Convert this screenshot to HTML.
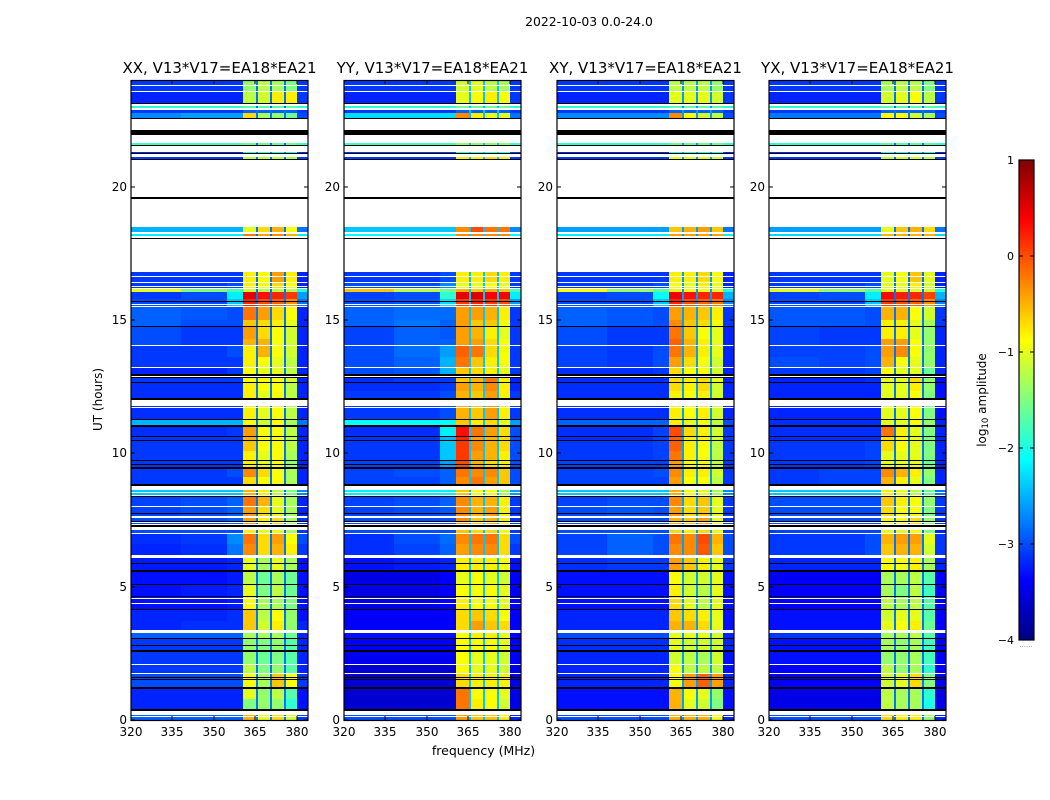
<!DOCTYPE html>
<html lang="en">
<head>
<meta charset="utf-8">
<title>2022-10-03 spectrogram</title>
<style>
html,body{margin:0;padding:0;background:#fff;}
svg{display:block;font-family:"DejaVu Sans","Liberation Sans",sans-serif;fill:#000;}
</style>
</head>
<body>
<svg id="figure" xmlns="http://www.w3.org/2000/svg" width="1050" height="800" viewBox="0 0 1050 800">
<text x="589" y="26" font-size="12.4" text-anchor="middle">2022-10-03 0.0-24.0</text>
<text x="483.5" y="755" font-size="12.5" text-anchor="middle">frequency (MHz)</text>
<text x="0" y="0" font-size="12" text-anchor="middle" transform="translate(102,399.5) rotate(-90)">UT (hours)</text>
<text x="0" y="0" font-size="12" text-anchor="middle" transform="translate(986,400) rotate(-90)">log<tspan font-size="8.5" dy="2">10</tspan><tspan dy="-2"> amplitude</tspan></text>
</svg>
<script>
// UT edges of each time band (hours), top of plot to bottom
const utEdges = [24,23.6,23.11,22.94,22.77,22.52,21.57,21.25,19,18.3,17,16.42,16.16,16.06,15.8,15.47,15,14.75,14.3,14.02,13.6,13.22,12.82,12.64,12.35,11.29,11.03,10.63,10.49,10.1,9.73,9.42,9.1,8.62,8.38,8,7.66,7.25,6.97,6.6,6.12,5.6,5.08,4.63,4.14,3.7,3.32,3.05,2.6,2.08,1.74,1.2,0.8,0.36,0];
// Frequency edges (MHz) of: low1, low2, low3, strip1, strip2, strip3, strip4, high
const freqEdges = [320,338,354.6,360.6,365.9,370.6,375.7,380,384];
const slitBands = [[365.3,365.9],[370.1,370.6],[375.2,375.7]];
const slitLevels = [-2.8,-2.4,-2.6,-2.8];
const panelTitles = ["XX, V13*V17=EA18*EA21","YY, V13*V17=EA18*EA21","XY, V13*V17=EA18*EA21","YX, V13*V17=EA18*EA21"];
const freqTicks = [320,335,350,365,380];
const utTicks = [0,5,10,15,20];
const colorbarTicks = [1,0,-1,-2,-3,-4];
const colorbarLabels = ["1","0","\u22121","\u22122","\u22123","\u22124"];
// Flagged time ranges [start, end] in UT hours
const whiteFlags = [[23.81,23.77],[23.6,23.56],[23.11,23.03],[22.94,22.87],[22.52,22.12],[21.95,21.63],[21.57,21.55],[21.52,21.31],[21.22,21.1],[21,19.62],[19.55,18.49],[18.31,18.21],[18.15,18.08],[18.05,16.81],[16.65,16.6],[16.42,16.37],[16.28,16.22],[16.2,16.16],[15.6,15.56],[15.52,15.47],[14.05,14.01],[13.24,13.2],[12.9,12.86],[12,11.77],[11.75,11.7],[8.77,8.62],[8.54,8.5],[8.45,8.4],[8.02,7.99],[7.66,7.57],[7.41,7.38],[7.34,7.3],[7.25,7.11],[7.02,6.97],[6.19,6.06],[4.59,4.54],[4.39,4.34],[3.37,3.27],[2.11,2.06],[1.76,1.71],[0.33,0.18],[0.15,0.1]];
const blackFlags = [[23.13,23.11],[22.56,22.52],[22.12,21.95],[21.55,21.52],[21.25,21.22],[21.03,21],[19.62,19.55],[18.08,18.05],[15.7,15.66],[14.77,14.74],[12.97,12.9],[12.86,12.82],[12.66,12.64],[12.08,12],[11.29,11.26],[11.05,11],[10.65,10.61],[10.51,10.47],[9.75,9.71],[9.59,9.55],[9.5,9.42],[8.85,8.77],[8.4,8.36],[7.75,7.71],[7.45,7.41],[7.3,7.25],[5.88,5.85],[5.62,5.56],[5.1,5.05],[4.65,4.61],[4.17,4.11],[3.07,3.04],[2.81,2.77],[2.62,2.56],[1.62,1.57],[1.54,1.5],[1.23,1.16],[0.4,0.33]];
// log10 amplitude per band: low1, low2, low3, strip1, strip2, strip3, strip4, high
const xxLevels = [
[-3.1,-3.1,-3.1,-1.4,-1.2,-1.3,-1.5,-3.1],[-3.2,-3.2,-3.2,-1.2,-1.1,-0.8,-0.8,-3.1],[-1.9,-1.9,-1.9,-1.7,-1.7,-1.7,-1.7,-1.9],[-3.1,-3.1,-3.1,-2.9,-2.9,-2.9,-2.9,-3.1],[-2.7,-2.6,-2.6,-0.7,-1.3,-1.4,-1.6,-3],[-1.8,-1.8,-1.8,-1.6,-1.6,-1.6,-1.6,-1.8],
[-3.2,-3.2,-3.2,-2,-1.9,-2,-2,-3.2],[-3.1,-3.1,-3.1,-1.2,-1.2,-1.2,-1.3,-3.1],[-2.5,-2.5,-2.5,-1,-0.7,-0.5,-0.9,-2.8],[-2.2,-2.2,-2.2,-0.2,-0.4,-0.3,-0.5,-2.2],[-3.1,-3.1,-3.1,-0.8,-0.9,-0.4,-0.8,-3.2],[-3.1,-3.1,-3,-0.8,-0.9,-0.7,-0.9,-3.2],
[-1,-1.5,-1.8,-1.1,-1.2,-1.2,-1.2,-2],[-3.1,-3,-2.2,0.5,0.3,0.2,0.1,-2.6],[-3,-3,-2.4,0.2,0,-0.1,-0.3,-2.8],[-2.9,-2.95,-3,-0.2,-0.4,-0.7,-0.9,-3.2],[-2.9,-3,-3,-0.6,-0.7,-0.8,-1,-3.2],[-3,-3.1,-3.1,-0.4,-0.7,-0.9,-1.1,-3.2],
[-3,-3.1,-3.1,-0.5,-0.5,-0.9,-1.1,-3.2],[-3.1,-3.1,-3,-0.8,-0.5,-0.9,-1.1,-3.2],[-3.1,-3.1,-3.1,-0.8,-0.9,-1,-1.2,-3.2],[-3.2,-3.2,-3.1,-0.9,-1,-1,-1.2,-3.2],[-3.1,-3.1,-3.1,-0.9,-0.9,-0.9,-1.1,-3.2],[-3.15,-3.15,-3.15,-0.8,-0.9,-0.9,-1.2,-3.2],
[-3.15,-3.15,-3.15,-0.8,-1,-0.9,-1.2,-3.2],[-2.5,-2.5,-2.5,-0.9,-1.1,-0.9,-1.3,-2.8],[-3.15,-3.15,-3.1,-0.4,-0.9,-0.9,-1.2,-3.2],[-3.1,-3.1,-3.1,-0.5,-0.9,-0.9,-1.2,-3.2],[-3.1,-3.1,-3.1,-0.6,-0.9,-0.9,-1.2,-3.2],[-3.1,-3.1,-3.1,-0.8,-1,-0.9,-1.3,-3.2],
[-3.1,-3.1,-3.1,-0.8,-1,-0.9,-1.4,-3.2],[-3.1,-3.1,-3,-0.3,-0.7,-0.9,-1.3,-3.2],[-3.1,-3.1,-3.1,-0.7,-0.9,-0.9,-1.3,-3.2],[-2.4,-2.4,-2.4,-0.5,-0.8,-1.2,-1.5,-2.7],[-3.05,-3,-2.9,-0.2,-0.5,-1,-1.3,-3.2],[-3.05,-3,-2.9,-0.4,-0.7,-1,-1.3,-3.2],
[-3,-3,-2.9,-0.4,-0.8,-0.7,-1.3,-3.1],[-3,-3,-3,-0.8,-1,-1,-1.3,-3.1],[-3.15,-3.1,-2.7,-0.2,-0.7,-0.4,-0.9,-3],[-3.2,-3.15,-2.8,-0.3,-0.7,-0.5,-0.8,-3.1],[-3.25,-3.25,-3.2,-1,-1.3,-1,-1.3,-3.3],[-3.3,-3.3,-3.25,-1.2,-1.6,-1.3,-1.6,-3.3],
[-3.3,-3.25,-3.2,-1,-1.5,-1.2,-1.6,-3.3],[-3.3,-3.3,-3.25,-0.9,-1.3,-1.3,-1.5,-3.3],[-3.2,-3.2,-3.15,-0.6,-1.2,-0.9,-1.4,-3.3],[-3.2,-3.15,-3.15,-0.6,-1.1,-0.8,-1.4,-3.2],[-2.9,-2.9,-2.9,-1.3,-1.3,-1.3,-1.6,-3.2],[-3.1,-3.1,-3.1,-1.4,-1.5,-1.4,-1.7,-3.2],
[-3.1,-3.1,-3.1,-1.4,-1.6,-1.5,-1.7,-3.2],[-3.1,-3.1,-3.1,-1.2,-1.5,-1.4,-1.7,-3.2],[-3,-3,-3,-0.9,-1.3,-0.6,-0.9,-3.1],[-3.2,-3.2,-3.2,-1,-1.4,-1.2,-1.7,-3.3],[-3.2,-3.2,-3.2,-1.5,-1.4,-1.4,-1.9,-3.3],[-2.9,-2.9,-2.9,-0.5,-1,-0.7,-1.1,-3.1]];
const yyLevels = [
[-3.1,-3.1,-3.1,-1.1,-1,-1.2,-1.3,-3.1],[-3.2,-3.2,-3.2,-1,-0.9,-0.8,-0.9,-3.1],[-1.9,-1.9,-1.9,-1.6,-1.6,-1.6,-1.6,-1.9],[-3.1,-3.1,-3.1,-2.9,-2.9,-2.9,-2.9,-3.1],[-2.3,-2.3,-2.3,-0.3,-0.8,-1,-1,-2.8],[-1.8,-1.8,-1.8,-1.4,-1.4,-1.4,-1.4,-1.8],
[-3.1,-3.1,-3.1,-1.9,-1.9,-1.9,-1.9,-3.1],[-3.1,-3.1,-3.1,-0.8,-0.8,-0.7,-0.8,-3.1],[-2.4,-2.4,-2.4,-0.3,0,-0.2,-0.2,-2.7],[-2.1,-2.1,-2.1,-0.3,-0.3,-0.3,-0.3,-2.1],[-3.1,-3.1,-3,-0.8,-0.8,-0.7,-0.8,-3.1],[-3,-3,-2.7,-1,-1,-0.9,-1,-3.1],
[-0.6,-1.2,-1.6,-0.5,-0.6,-0.5,-0.6,-1.8],[-3.05,-3,-1.9,0.5,0.55,0.4,0.4,-2.2],[-3,-2.95,-2.3,0.1,0.2,0.1,0,-2.6],[-2.9,-2.85,-2.85,-0.4,-0.4,-0.5,-0.8,-3.1],[-2.9,-2.8,-2.9,-0.4,-0.6,-0.6,-0.9,-3.1],[-3.05,-2.9,-2.95,-0.4,-0.5,-0.8,-1,-3.1],
[-3.05,-2.9,-2.9,-0.4,-0.4,-0.7,-0.9,-3.1],[-3,-2.85,-2.6,-0.1,-0.2,-0.7,-0.9,-3.1],[-3,-2.9,-2.5,-0.2,-0.6,-0.8,-0.9,-3.1],[-3,-2.95,-2.5,-0.6,-0.7,-0.8,-1,-3.1],[-3.15,-3.1,-3.1,-0.6,-0.5,-0.2,-0.8,-3.2],[-3.15,-3.15,-3.1,-0.4,-0.5,-0.3,-0.8,-3.2],
[-3.1,-3.1,-3,-0.5,-0.6,-0.4,-0.8,-3.1],[-2.1,-2.1,-2.1,-0.6,-0.8,-0.7,-1,-2.6],[-3.15,-3.15,-2.2,0.3,-0.2,-0.4,-0.7,-3],[-3.1,-3.1,-2.5,0.2,-0.4,-0.5,-0.7,-3],[-3.1,-3.1,-2.4,0.1,-0.3,-0.5,-0.7,-3],[-3.1,-3.1,-2.4,0.1,-0.4,-0.5,-0.8,-3],
[-3.05,-3.05,-2.6,0,-0.5,-0.7,-0.8,-3],[-3.05,-3,-2.9,-0.2,-0.3,-0.3,-0.6,-3],[-3.05,-3.05,-2.9,-0.3,-0.2,-0.4,-0.6,-3],[-2.2,-2.2,-2.2,-0.6,-0.9,-0.9,-1.3,-2.6],[-3.05,-3,-2.9,-0.3,-0.5,-0.5,-0.8,-3.1],[-3.05,-3,-2.95,-0.3,-0.5,-0.4,-0.8,-3.1],
[-3,-3,-3,-0.3,-0.6,-0.5,-0.8,-3.1],[-3,-3,-3,-0.6,-0.7,-0.7,-0.9,-3.1],[-3.15,-3,-2.85,-0.3,-0.2,-0.2,-0.7,-3],[-3.15,-3.05,-2.9,-0.4,-0.3,-0.3,-0.7,-3.1],[-3.3,-3.25,-3.2,-0.8,-0.8,-0.8,-0.9,-3.3],[-3.5,-3.5,-3.4,-1,-0.9,-1,-1.1,-3.4],
[-3.5,-3.5,-3.4,-0.9,-0.9,-0.9,-1,-3.4],[-3.5,-3.5,-3.4,-0.8,-0.9,-0.9,-1,-3.4],[-3.4,-3.4,-3.4,-0.7,-0.6,-0.7,-0.9,-3.4],[-3.4,-3.4,-3.4,-0.7,-0.4,-0.6,-0.7,-3.4],[-3.3,-3.3,-3.3,-0.9,-0.8,-0.8,-1,-3.4],[-3.4,-3.4,-3.4,-0.9,-0.9,-0.9,-1,-3.4],
[-3.45,-3.45,-3.45,-0.9,-1,-1,-1.1,-3.4],[-3.6,-3.6,-3.6,-0.9,-1,-1,-1.1,-3.5],[-3.6,-3.6,-3.6,-0.7,-0.8,-0.8,-0.8,-3.5],[-3.6,-3.6,-3.6,-0.2,-0.9,-0.9,-1,-3.5],[-3.6,-3.6,-3.6,-0.2,-0.8,-0.9,-1.1,-3.5],[-3,-3,-3,-0.4,-0.6,-0.6,-0.8,-3.2]];
const xyLevels = [
[-3.1,-3.1,-3.1,-1.2,-1.2,-1.2,-1.4,-3.1],[-3.2,-3.2,-3.2,-1,-1,-1,-1.1,-3.1],[-1.9,-1.9,-1.9,-1.7,-1.7,-1.7,-1.7,-1.9],[-3.1,-3.1,-3.1,-2.9,-2.9,-2.9,-2.9,-3.1],[-2.7,-2.7,-2.7,-0.3,-0.9,-1.1,-1.2,-3],[-1.9,-1.9,-1.9,-1.6,-1.6,-1.6,-1.6,-1.9],
[-3.2,-3.2,-3.2,-2,-2,-2,-2,-3.2],[-3.1,-3.1,-3.1,-1,-1,-1,-1.1,-3.1],[-2.6,-2.6,-2.6,-0.6,-0.5,-0.4,-0.6,-2.8],[-2.2,-2.2,-2.2,-0.4,-0.4,-0.4,-0.4,-2.2],[-3.1,-3.1,-3.1,-0.8,-0.8,-0.7,-0.9,-3.2],[-3.1,-3.1,-3,-0.9,-1,-0.8,-1,-3.2],
[-0.9,-1.4,-1.7,-0.8,-0.9,-0.9,-1,-2],[-3.05,-3,-2.1,0.45,0.3,0.2,0.2,-2.5],[-3,-3,-2.4,0.2,0,-0.1,-0.2,-2.7],[-2.9,-2.95,-3,-0.4,-0.5,-0.6,-0.8,-3.1],[-2.9,-2.95,-3,-0.3,-0.6,-0.7,-0.9,-3.1],[-3,-3.1,-3.1,-0.2,-0.6,-0.9,-1,-3.2],
[-3,-3.1,-3.1,-0.1,-0.5,-0.8,-1,-3.2],[-3.05,-3.1,-3,-0.2,-0.5,-0.8,-1,-3.2],[-3.05,-3.1,-3,-0.4,-0.7,-0.9,-1.1,-3.2],[-3.15,-3.15,-3.1,-0.7,-0.9,-0.9,-1.1,-3.2],[-3.15,-3.15,-3.15,-0.7,-0.8,-0.7,-1,-3.2],[-3.15,-3.15,-3.15,-0.7,-0.8,-0.7,-1.1,-3.2],
[-3.15,-3.15,-3.15,-0.8,-0.9,-0.8,-1.1,-3.2],[-2.9,-2.9,-2.9,-0.8,-1,-0.9,-1.2,-3],[-3.15,-3.15,-3.05,0,-0.7,-0.8,-1.1,-3.1],[-3.15,-3.15,-3.05,-0.1,-0.8,-0.8,-1.1,-3.1],[-3.1,-3.1,-3.05,-0.1,-0.8,-0.9,-1.2,-3.1],[-3.1,-3.1,-3.05,-0.2,-0.8,-0.9,-1.2,-3.1],
[-3.05,-3.05,-3.05,-0.4,-0.9,-0.9,-1.2,-3.1],[-3.05,-3.05,-3,-0.3,-0.8,-0.8,-1.1,-3.1],[-3.05,-3.05,-3.05,-0.4,-0.9,-0.9,-1.2,-3.1],[-2.4,-2.4,-2.4,-0.5,-0.9,-1,-1.3,-2.7],[-3.05,-3,-3,-0.3,-0.7,-0.6,-1,-3.1],[-3,-2.95,-3,-0.4,-0.7,-0.6,-1,-3.1],
[-3,-3,-3,-0.5,-0.6,-0.4,-1,-3.1],[-3,-3,-3,-0.7,-0.8,-0.7,-1,-3.1],[-3.05,-2.9,-3,-0.2,-0.3,0,-0.5,-3],[-3.05,-2.9,-3,-0.3,-0.3,-0.05,-0.6,-3],[-3.15,-3.1,-3.1,-0.4,-0.6,-0.8,-1,-3.1],[-3.3,-3.3,-3.3,-0.9,-1.1,-1.1,-1,-3.3],
[-3.3,-3.3,-3.3,-0.8,-1.1,-1.2,-1,-3.3],[-3.3,-3.3,-3.3,-0.7,-1,-1.2,-1,-3.3],[-3.2,-3.2,-3.2,-0.6,-0.7,-0.8,-1,-3.3],[-3.2,-3.2,-3.2,-0.5,-0.5,-0.7,-1,-3.3],[-3,-3,-3,-1,-1,-1,-1.1,-3.2],[-3.15,-3.15,-3.15,-1,-1.1,-1.1,-1.1,-3.2],
[-3.2,-3.2,-3.2,-1.1,-1.2,-1.3,-1.1,-3.3],[-3.2,-3.2,-3.2,-0.9,-1.2,-1.2,-1.2,-3.3],[-3.2,-3.2,-3.2,-0.9,-0.4,-0.1,-0.4,-3.2],[-3.3,-3.3,-3.3,-0.5,-0.9,-1,-1.4,-3.3],[-3.3,-3.3,-3.3,-0.5,-1,-1.1,-1.5,-3.3],[-3,-3,-3,-0.5,-0.5,-0.5,-0.9,-3.2]];
const yxLevels = [
[-3.1,-3.1,-3.1,-1.3,-1.2,-1.2,-1.5,-3.1],[-3.2,-3.2,-3.2,-1.1,-1,-0.9,-1.2,-3.1],[-1.9,-1.9,-1.9,-1.7,-1.7,-1.7,-1.7,-1.9],[-3.1,-3.1,-3.1,-2.9,-2.9,-2.9,-2.9,-3.1],[-2.8,-2.8,-2.8,-0.9,-0.9,-1.1,-1.3,-3],[-1.9,-1.9,-1.9,-1.7,-1.7,-1.7,-1.7,-1.9],
[-3.2,-3.2,-3.2,-2,-2,-2,-2,-3.2],[-3.1,-3.1,-3.1,-1.2,-1.1,-1.1,-1.2,-3.1],[-2.6,-2.6,-2.6,-1,-0.6,-0.5,-0.7,-2.8],[-2.3,-2.3,-2.3,-0.5,-0.5,-0.5,-0.5,-2.3],[-3.1,-3.1,-3.1,-1,-0.9,-0.6,-1,-3.2],[-3.1,-3.1,-3,-1,-1,-0.8,-1.1,-3.2],
[-1,-1.4,-1.7,-1,-1,-1,-1.1,-2],[-3.05,-3,-2.2,0.35,0.25,0.2,0.05,-2.5],[-3,-3,-2.4,0.1,0,-0.1,-0.3,-2.7],[-2.95,-2.95,-3,-0.5,-0.5,-0.9,-1.1,-3.1],[-2.95,-2.95,-3,-0.8,-0.8,-1,-1.3,-3.1],[-3.05,-3.1,-3.1,-0.8,-0.8,-1,-1.4,-3.2],
[-3.05,-3.1,-3.1,-0.4,-0.4,-0.9,-1.4,-3.2],[-3.05,-3.05,-3,-0.4,-0.3,-0.9,-1.4,-3.2],[-3,-3.05,-3,-0.5,-0.9,-1,-1.4,-3.2],[-3.1,-3.1,-3.05,-0.9,-1,-1,-1.6,-3.2],[-3.2,-3.2,-3.15,-1,-1,-0.7,-1.4,-3.3],[-3.2,-3.2,-3.2,-1,-1,-0.8,-1.4,-3.3],
[-3.2,-3.2,-3.2,-1,-1,-0.9,-1.5,-3.3],[-3.15,-3.15,-3.15,-1,-1,-0.9,-1.4,-3.2],[-3.15,-3.15,-3.15,-0.2,-0.8,-1,-1.5,-3.2],[-3.15,-3.15,-3.15,-0.7,-0.9,-1,-1.5,-3.2],[-3.1,-3.1,-3.05,-0.7,-0.9,-1,-1.5,-3.2],[-3.1,-3.1,-3.05,-1,-1,-1,-1.5,-3.2],
[-3.1,-3.1,-3.05,-1,-1,-1,-1.6,-3.2],[-3.1,-3.05,-3.05,-0.3,-0.5,-0.8,-1.4,-3.2],[-3.1,-3.05,-3.05,-0.5,-0.8,-1,-1.5,-3.2],[-2.4,-2.4,-2.4,-0.8,-1,-1.2,-1.6,-2.8],[-3,-3,-3,-0.6,-0.8,-0.9,-1.4,-3.1],[-3,-3,-3,-0.7,-0.9,-0.9,-1.5,-3.1],
[-3,-3,-3,-0.9,-0.9,-0.7,-1.4,-3.1],[-3.05,-3.05,-3.05,-1,-1,-0.9,-1.5,-3.2],[-3.1,-3.1,-3,-0.5,-0.4,-0.4,-1,-3.1],[-3.1,-3.1,-3,-0.6,-0.5,-0.5,-1.1,-3.1],[-3.2,-3.2,-3.2,-0.9,-0.9,-0.8,-1.3,-3.2],[-3.4,-3.4,-3.4,-1.3,-1.3,-1.2,-1.7,-3.4],
[-3.4,-3.4,-3.4,-1.3,-1.5,-1.2,-1.8,-3.4],[-3.4,-3.4,-3.4,-1.2,-1.3,-1.2,-1.7,-3.4],[-3.3,-3.3,-3.3,-1.1,-1,-1,-1.7,-3.4],[-3.3,-3.3,-3.3,-1,-0.9,-0.8,-1.6,-3.4],[-3.1,-3.1,-3.1,-1.3,-1.3,-1.2,-1.7,-3.3],[-3.3,-3.3,-3.3,-1.3,-1.4,-1.3,-1.8,-3.4],
[-3.3,-3.3,-3.3,-1.4,-1.4,-1.3,-1.8,-3.4],[-3.4,-3.4,-3.4,-1.2,-1.4,-1.3,-1.9,-3.4],[-3.4,-3.4,-3.4,-1.1,-1,-0.7,-1.5,-3.4],[-3.5,-3.5,-3.5,-1.2,-1.3,-1.3,-1.9,-3.5],[-3.5,-3.5,-3.5,-1.2,-1.3,-1.3,-2,-3.5],[-3,-3,-3,-0.7,-0.8,-0.8,-1.4,-3.2]];
const panelLevels = [xxLevels,yyLevels,xyLevels,yxLevels];
const panelNames = ["xx","yy","xy","yx"];

const SVG_NS = "http://www.w3.org/2000/svg";
const figure = document.getElementById("figure");
const panelLefts = [131,344,557,769];
const plotTop = 80, plotBottom = 720, plotWidth = 177;
const cbLeft = 1019, cbWidth = 15, cbTop = 160, cbBottom = 640;

function yScale(ut){ return plotBottom - (ut/24)*(plotBottom-plotTop); }
function xScale(f,left){ return left + ((f-320)/64)*plotWidth; }
function cbScale(v){ return cbTop + ((1-v)/5)*(cbBottom-cbTop); }
function jetChannel(t){ return Math.max(0,Math.min(1,1.5-Math.abs(4*t))); }
function jet(v){
  const t = Math.max(0,Math.min(1,(v+4)/5));
  const r = jetChannel(t-0.75), g = jetChannel(t-0.5), b = jetChannel(t-0.25);
  return "rgb("+Math.round(r*255)+","+Math.round(g*255)+","+Math.round(b*255)+")";
}
function make(type,parent){
  const el = document.createElementNS(SVG_NS,type);
  parent.appendChild(el);
  return el;
}
function setRect(el,x,y,w,h,fill){
  el.setAttribute("x",x);
  el.setAttribute("y",y);
  el.setAttribute("width",w);
  el.setAttribute("height",h);
  el.setAttribute("fill",fill);
  el.setAttribute("shape-rendering","crispEdges");
}
function setLine(el,x1,y1,x2,y2){
  el.setAttribute("x1",x1);
  el.setAttribute("y1",y1);
  el.setAttribute("x2",x2);
  el.setAttribute("y2",y2);
  el.setAttribute("stroke","#000");
  el.setAttribute("stroke-width","1");
  el.setAttribute("shape-rendering","crispEdges");
}
function setText(el,x,y,size,anchor,content){
  el.setAttribute("x",x);
  el.setAttribute("y",y);
  el.setAttribute("font-size",size);
  el.setAttribute("text-anchor",anchor);
  el.textContent = content;
}

panelLevels.forEach(function(levels,p){
  const left = panelLefts[p];
  const right = left + plotWidth;
  const group = make("g",figure);
  
  

  levels.forEach(function(row,r){
    const y0 = Math.round(yScale(utEdges[r]));
    const y1 = Math.round(yScale(utEdges[r+1]));
    row.forEach(function(level,c){
      const x0 = Math.round(xScale(freqEdges[c],left));
      const x1 = Math.round(xScale(freqEdges[c+1],left));
      const cell = make("rect",group);
      
      
      setRect(cell,x0,y0,x1-x0,y1-y0,jet(level));
    });
    slitBands.forEach(function(band){
      const x0 = Math.round(xScale(band[0],left));
      const slit = make("rect",group);
      
      
      setRect(slit,x0,y0,2,y1-y0,jet(slitLevels[p]));
    });
  });

  whiteFlags.forEach(function(flag){
    const y0 = Math.round(yScale(flag[0]));
    const y1 = Math.round(yScale(flag[1]));
    const bar = make("rect",group);
    
    
    setRect(bar,left,y0,plotWidth,Math.max(1,y1-y0),"#fff");
  });
  blackFlags.forEach(function(flag){
    const y0 = Math.round(yScale(flag[0]));
    const y1 = Math.round(yScale(flag[1]));
    const bar = make("rect",group);
    
    
    setRect(bar,left,y0,plotWidth,Math.max(1,y1-y0),"#000");
  });

  const frame = make("rect",group);
  
  
  frame.setAttribute("x",left);
  frame.setAttribute("y",plotTop+0.5);
  frame.setAttribute("width",plotWidth);
  frame.setAttribute("height",plotBottom-plotTop);
  frame.setAttribute("fill","none");
  frame.setAttribute("stroke","#000");
  frame.setAttribute("stroke-width","1.2");

  const title = make("text",group);
  
  
  setText(title,left+plotWidth/2,73,15,"middle",panelTitles[p]);

  freqTicks.forEach(function(f){
    const x = Math.round(xScale(f,left));
    const bottomTick = make("line",group);
    
    
    setLine(bottomTick,x,plotBottom,x,plotBottom-4);
    const topTick = make("line",group);
    
    
    setLine(topTick,x,plotTop,x,plotTop+4);
    const label = make("text",group);
    
    
    setText(label,x,736,12,"middle",String(f));
  });
  utTicks.forEach(function(ut){
    const y = Math.round(yScale(ut));
    const leftTick = make("line",group);
    
    
    setLine(leftTick,left,y,left+4,y);
    const rightTick = make("line",group);
    
    
    setLine(rightTick,right,y,right-4,y);
    const label = make("text",group);
    
    
    setText(label,left-4,y+4,12,"end",String(ut));
  });
});

const colorbar = make("g",figure);


for(let py=cbTop;py<cbBottom;py++){
  const v = 1-((py-cbTop+0.5)/(cbBottom-cbTop))*5;
  const swatch = make("rect",colorbar);
  
  
  setRect(swatch,cbLeft,py,cbWidth,1,jet(v));
}
const cbFrame = make("rect",colorbar);


cbFrame.setAttribute("x",cbLeft);
cbFrame.setAttribute("y",cbTop);
cbFrame.setAttribute("width",cbWidth);
cbFrame.setAttribute("height",cbBottom-cbTop);
cbFrame.setAttribute("fill","none");
cbFrame.setAttribute("stroke","#000");
cbFrame.setAttribute("stroke-width","1.2");
colorbarTicks.forEach(function(v,i){
  const y = Math.round(cbScale(v));
  const leftTick = make("line",colorbar);
  
  
  setLine(leftTick,cbLeft,y,cbLeft+4,y);
  const rightTick = make("line",colorbar);
  
  
  setLine(rightTick,cbLeft+cbWidth,y,cbLeft+cbWidth-4,y);
  const label = make("text",colorbar);
  
  
  setText(label,cbLeft-5,y+4,11,"end",colorbarLabels[i]);
});
const cbDots = make("text",colorbar);


setText(cbDots,cbLeft+7,647,7,"middle","......");
cbDots.setAttribute("fill","#888");
</script>
</body>
</html>
